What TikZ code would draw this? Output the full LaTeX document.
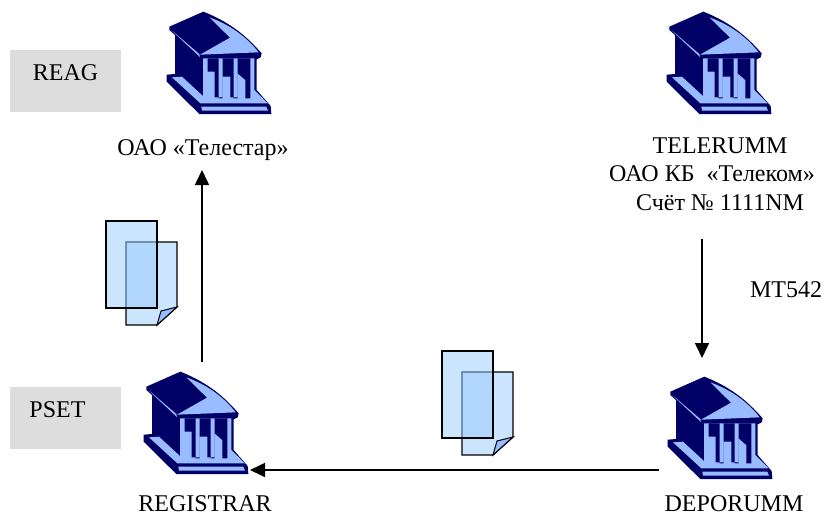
\documentclass[tikz,border=0pt]{standalone}
\usepackage{fontspec}
\setmainfont{Liberation Serif}
\usepackage{tikz}
\usetikzlibrary{positioning}
\usetikzlibrary{calc}
\usetikzlibrary{arrows.meta}

\definecolor{BankNavy}{RGB}{0,0,102}
\definecolor{BankLight}{RGB}{153,187,255}
\definecolor{DocFill}{RGB}{204,229,255}
\definecolor{DocTint}{RGB}{153,203,255}
\definecolor{TagGrey}{RGB}{221,221,221}

\tikzset{
	label text/.style={font=\fontsize{24}{28.5}\selectfont, align=center, inner sep=0pt},
	tag box/.style={fill=TagGrey, minimum width=111pt, minimum height=62pt},
	flow/.style={line width=1.6pt, -{Triangle[length=15pt,width=14pt]}},
	% building icon, drawn at three times its size and scaled down
	bank/.pic={
		\begin{scope}[scale=1/3]
			% dark silhouette
			\fill[BankNavy] (160,35)..controls (250,70) and (300,120)..(335,160)--(332,172)--(320,178)--(320,270)--(362,318)--(364,342)--(148,342)--(50,245)--(50,224)--(75,222)--(75,105)--(58,90)--(58,80)--cycle;
			% pediment and the strip under the roof
			\fill[BankLight] (178,52)..controls (250,78) and (295,118)..(326,157)--(150,164)--(240,113)--cycle;
			\fill[BankLight] (64,90)--(148,162)--(150,171)--(74,100)--cycle;
			% lit part of the front, then the dark gaps over it
			\fill[BankLight] (159,175)--(313,175)--(313,270)--(353,310)--(151,310)--(66,232)--(96,230)--(159,288)--cycle;
			\fill[BankNavy] (173,175)--(206,175)--(206,295)--(218,295)--(218,175)--(251,175)--(251,295)--(263,295)--(263,175)--(301,175)--(301,295)--(286,295)--(286,240)--(263,220)--(263,292)--(241,292)--(241,230)--(218,230)--(218,292)--(194,292)--(194,215)--(173,215)--cycle;
			% lower step of the base
			\fill[BankLight] (154,320)--(349,320)--(354,332)--(156,332)--cycle;
		\end{scope}
	},
	% plain sheet lying over a sheet with a folded corner
	docpair/.pic={
		\draw[line width=1.3pt, fill=DocFill] (20,21)--(71,21)--(71,86)--(51,104)--(20,104)--cycle;
		\draw[line width=1.0pt, fill=BankLight] (71,86)--(55,90)--(51,104)--cycle;
		\draw[line width=1.3pt, fill=DocTint, fill opacity=0.5] (0,0) rectangle (51,87);
	},
}

\begin{document}
\begin{tikzpicture}[x=1pt,y=-1pt]
	
	\useasboundingbox (0,0) rectangle (824,515);
	
	% grey tags on the left
	\node[tag box] (ReagTag) at (65.5,81) {};
	\node[tag box] (PsetTag) at (65.5,418) {};
	\node[label text] (ReagText) at (65.5,73) {REAG};
	\node[label text] (PsetText) at (57.5,410) {PSET};
	
	% the four buildings
	\pic at (150,0) {bank};
	\pic at (650,0) {bank};
	\pic at (127,360) {bank};
	\pic at (651,365) {bank};
	
	% texts under the buildings
	\node[label text] (ReagLabel) at (203,150) {ОАО «Телестар»};
	\node[label text] (TeleLabel) at (712,174) {\hspace*{16pt}TELERUMM\\ОАО КБ\ \ «Телеком»\\\hspace*{16pt}Счёт № 1111NM};
	\node[label text] (RegLabel) at (205,503.5) {REGISTRAR};
	\node[label text] (DepoLabel) at (734,503.5) {DEPORUMM};
	\node[label text] (MsgLabel) at (786,290) {MT542};
	
	% loose ends of the arrows
	\coordinate (RegTop) at (202,362);
	\coordinate (ReagBottom) at (202,170);
	\coordinate (TeleBottom) at (702,239);
	\coordinate (DepoTop) at (702,358);
	\coordinate (DepoLeft) at (659,470);
	\coordinate (RegRight) at (250,470);
	
	\draw[flow] (RegTop) -- (ReagBottom);
	\draw[flow] (TeleBottom) -- (DepoTop);
	\draw[flow] (DepoLeft) -- (RegRight);
	
	% documents
	\pic at (106,221) {docpair};
	\pic at (442,351) {docpair};
	
\end{tikzpicture}
\end{document}
